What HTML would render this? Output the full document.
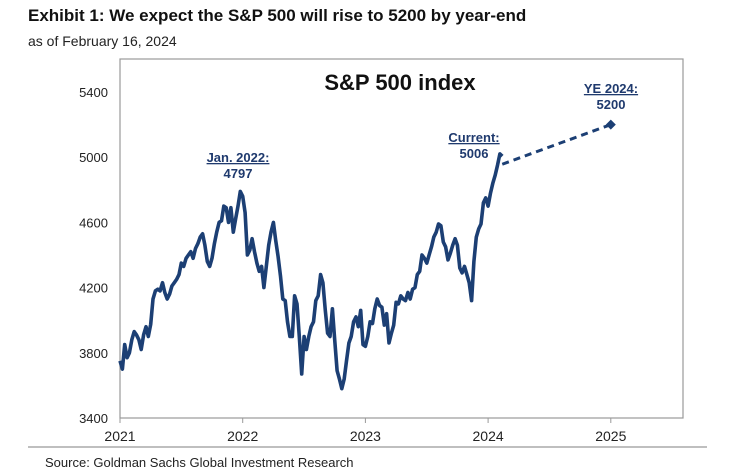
<!DOCTYPE html>
<html><head><meta charset="utf-8"><style>
body{margin:0;background:#fff;width:731px;height:476px;overflow:hidden;font-family:"Liberation Sans",Arial,sans-serif}
svg{position:absolute;left:0;top:0}
</style></head><body>
<svg width="731" height="476" viewBox="0 0 731 476" id="chart">
<text x="28" y="21" font-size="17" font-weight="bold" fill="#111">Exhibit 1: We expect the S&amp;P 500 will rise to 5200 by year-end</text>
<text x="28" y="46" font-size="14" fill="#222">as of February 16, 2024</text>
<rect x="120" y="59" width="563" height="359" fill="none" stroke="#999" stroke-width="1.2"/>
<line x1="28" y1="447" x2="707" y2="447" stroke="#999" stroke-width="1.2"/>
<text x="400" y="90" font-size="22" font-weight="bold" text-anchor="middle" fill="#111">S&amp;P 500 index</text>
<g id="yaxis"></g><g id="xaxis"></g><g id="series"></g><g id="annot"></g>
<text x="45" y="467" font-size="13" fill="#222">Source: Goldman Sachs Global Investment Research</text>
</svg>
<script>
const yTicks=[3400,3800,4200,4600,5000,5400];
const xTicks=[2021,2022,2023,2024,2025];
const v2021=[3750,3700,3850,3770,3800,3880,3930,3910,3880,3820,3910,3960,3900,3975,4130,4180,4190,4180,4230,4170,4130,4160,4210,4230,4250,4280,4350,4330,4380,4400,4420,4380,4440,4470,4510,4530,4460,4360,4330,4380,4470,4540,4600,4610,4700,4690,4600,4690,4540,4620,4700,4790];
const v2022=[4760,4660,4400,4430,4500,4420,4350,4300,4330,4200,4330,4460,4540,4600,4490,4390,4270,4130,4120,3990,3900,3900,4150,4100,3900,3670,3900,3820,3900,3960,3990,4120,4150,4280,4230,4060,3920,3900,4070,3880,3690,3640,3580,3640,3750,3860,3900,3990,4020,3960,4060,3850];
const v2023=[3840,3900,3990,3980,4070,4130,4090,4080,3970,4040,3860,3920,3970,4110,4100,4150,4130,4120,4170,4130,4190,4200,4280,4300,4400,4380,4350,4400,4450,4510,4540,4590,4580,4480,4450,4370,4410,4460,4500,4460,4320,4290,4330,4280,4230,4120,4360,4510,4560,4590,4720,4750];
const v2024=[4700,4780,4840,4890,4950,5020,5006];
const target=[2025,5200];
const NS="http://www.w3.org/2000/svg";
const X=t=>120+(t-2021)*122.7;
const Y=v=>418-(v-3400)*0.163;
function mk(tag,attrs,parent){const e=document.createElementNS(NS,tag);for(const k in attrs)e.setAttribute(k,attrs[k]);document.getElementById(parent).appendChild(e);return e;}
yTicks.forEach(v=>{const t=mk('text',{x:108,y:Y(v)+5,'font-size':13,'text-anchor':'end',fill:'#222'},'yaxis');t.textContent=v;

});
xTicks.forEach(v=>{const l=mk('line',{x1:X(v),x2:X(v),y1:418,y2:423,stroke:'#999'},'xaxis');


const t=mk('text',{x:X(v),y:441,'font-size':14,'text-anchor':'middle',fill:'#222'},'xaxis');t.textContent=v;

});
const pts=[];
[[2021,v2021],[2022,v2022],[2023,v2023],[2024,v2024]].forEach(([yr,arr])=>arr.forEach((v,i)=>pts.push([yr+i/52,v])));
const p=mk('polyline',{points:pts.map(d=>X(d[0]).toFixed(1)+','+Y(d[1]).toFixed(1)).join(' '),fill:'none',stroke:'#1c3f74','stroke-width':3.6,'stroke-linejoin':'round'},'series');


const last=pts[pts.length-1];
const d=mk('line',{x1:X(last[0]),y1:Y(last[1])+8,x2:X(target[0]),y2:Y(target[1]),stroke:'#1c3f74','stroke-width':3,'stroke-dasharray':'7,5'},'series');


const tx=X(target[0]),ty=Y(target[1]);
const m=mk('polygon',{points:`${tx},${ty-5} ${tx+5},${ty} ${tx},${ty+5} ${tx-5},${ty}`,fill:'#1c3f74'},'series');


function label(x,y,a,b,name){const t1=mk('text',{x:x,y:y,'font-size':13,'font-weight':'bold','text-anchor':'middle',fill:'#1f3a6e','text-decoration':'underline'},'annot');t1.textContent=a;


const t2=mk('text',{x:x,y:y+16,'font-size':13,'font-weight':'bold','text-anchor':'middle',fill:'#1f3a6e'},'annot');t2.textContent=b;

}
label(238,162,'Jan. 2022:','4797','peak-label');
label(474,142,'Current:','5006','current-label');
label(611,93,'YE 2024:','5200','target-label');
</script>
</body></html>
